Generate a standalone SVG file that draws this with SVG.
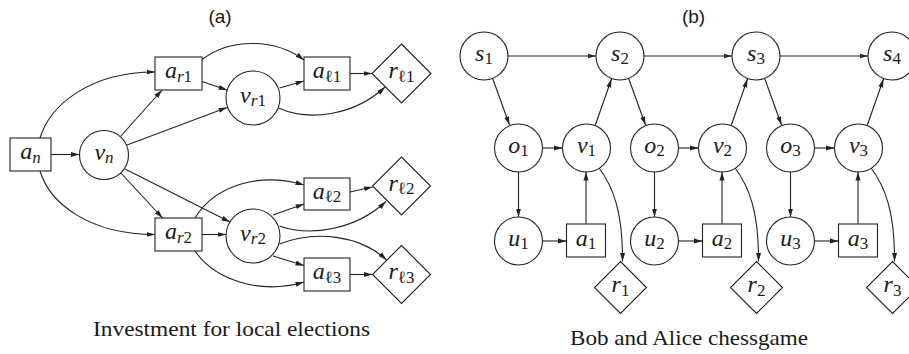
<svg xmlns="http://www.w3.org/2000/svg" width="909" height="354" viewBox="0 0 909 354">
  <style>
    .n { fill: #fff; stroke: #222; stroke-width: 1.1; }
    .e { fill: none; stroke: #222; stroke-width: 1.1; marker-end: url(#ah); }
    .lbl { font-family: "Liberation Serif", "DejaVu Serif", serif; font-style: italic; font-size: 24px; fill: #1a1a1a; text-anchor: middle; }
    .sub { font-size: 17px; }
    .up { font-style: normal; }
    .title { font-family: "Liberation Sans", Arial, sans-serif; font-size: 19px; fill: #1a1a1a; text-anchor: middle; }
    .cap { font-family: "Liberation Serif", "DejaVu Serif", serif; font-size: 21px; fill: #1a1a1a; }
  </style>
  <defs>
    <marker id="ah" markerWidth="9" markerHeight="6" refX="8.5" refY="3" orient="auto" markerUnits="userSpaceOnUse">
      <path d="M0,0.5 L8.5,3 L0,5.5 z" fill="#222"/>
    </marker>
  </defs>
  <rect width="909" height="354" fill="#fff"/>

  <!-- panel titles and captions -->
  <text class="title" x="220" y="23">(a)</text>
  <text class="title" x="693.5" y="23">(b)</text>
  <text class="cap" x="93" y="336" textLength="277" lengthAdjust="spacingAndGlyphs">Investment for local elections</text>
  <text class="cap" x="570" y="345" textLength="238" lengthAdjust="spacingAndGlyphs">Bob and Alice chessgame</text>

  <!-- connectors -->
  <g id="edges">
    <!-- (a) -->
    <path class="e" d="M51,154.5 L79.5,154.5"/>
    <path class="e" d="M40,138 C50,105 90,72 155,72"/>
    <path class="e" d="M40,171 C50,204 90,234.5 155,234.5"/>
    <path class="e" d="M120.5,136.5 L162,90"/>
    <path class="e" d="M127,145 L227,107.5"/>
    <path class="e" d="M120.5,172.5 L162.5,218"/>
    <path class="e" d="M125,169 L230,222"/>
    <path class="e" d="M202,81.5 L227,90"/>
    <path class="e" d="M202,59.5 C230,38 275,38 304,60"/>
    <path class="e" d="M279.5,88 L304,81"/>
    <path class="e" d="M278.5,108 C310,122 355,115 385,87"/>
    <path class="e" d="M350,73.5 L372,73.5"/>
    <path class="e" d="M195,218 C215,185 260,172 304,185"/>
    <path class="e" d="M202,234.5 L226,234.5"/>
    <path class="e" d="M195,251 C215,280 260,295 304,282"/>
    <path class="e" d="M273,215 L304,204"/>
    <path class="e" d="M279.5,226 C310,237 355,230 386,201.5"/>
    <path class="e" d="M279.5,244 C315,230 360,235 386.5,260"/>
    <path class="e" d="M273,256 L304,265.5"/>
    <path class="e" d="M350,192 L372.5,187"/>
    <path class="e" d="M350,274.5 L372.5,274.5"/>
    <!-- (b) -->
    <path class="e" d="M508,56 L596,56"/>
    <path class="e" d="M644,56 L732,56"/>
    <path class="e" d="M780,56 L868,56"/>
    <path class="e" d="M492.5,78 L509.5,125"/>
    <path class="e" d="M628.5,78 L645.5,125"/>
    <path class="e" d="M764.5,78 L781.5,125"/>
    <path class="e" d="M595,126 L611.5,79"/>
    <path class="e" d="M731,126 L747.5,79"/>
    <path class="e" d="M867,126 L883.5,79"/>
    <path class="e" d="M542.5,148 L562.5,148"/>
    <path class="e" d="M678.5,148 L698.5,148"/>
    <path class="e" d="M814.5,148 L834.5,148"/>
    <path class="e" d="M518.5,172 L518.5,217"/>
    <path class="e" d="M654.5,172 L654.5,217"/>
    <path class="e" d="M790.5,172 L790.5,217"/>
    <path class="e" d="M586,224 L586,172"/>
    <path class="e" d="M722,224 L722,172"/>
    <path class="e" d="M858,224 L858,172"/>
    <path class="e" d="M542.5,241 L566.5,241"/>
    <path class="e" d="M678.5,241 L702.5,241"/>
    <path class="e" d="M814.5,241 L838.5,241"/>
    <path class="e" d="M599,168 C612,185 623,210 622.5,261.5"/>
    <path class="e" d="M735,168 C748,185 759,210 758.5,261.5"/>
    <path class="e" d="M871,168 C884,185 895,210 894.5,261.5"/>
  </g>

  <!-- (a) nodes -->
  <g id="a_n"><rect class="n" x="10" y="138" width="41" height="33"/><text class="lbl" x="30.5" y="159">a<tspan class="sub" dy="3.5">n</tspan></text></g>
  <g id="v_n"><circle class="n" cx="104" cy="155" r="24.5"/><text class="lbl" x="104" y="159.5">v<tspan class="sub" dy="3.5">n</tspan></text></g>
  <g id="a_r1"><rect class="n" x="155" y="57" width="47" height="33"/><text class="lbl" x="178.5" y="78">a<tspan class="sub" dy="3.5">r</tspan><tspan class="sub up">1</tspan></text></g>
  <g id="v_r1"><circle class="n" cx="253" cy="98" r="27"/><text class="lbl" x="253" y="102.5">v<tspan class="sub" dy="3.5">r</tspan><tspan class="sub up">1</tspan></text></g>
  <g id="a_l1"><rect class="n" x="304" y="57" width="46" height="33"/><text class="lbl" x="327" y="78">a<tspan class="sub up" dy="3.5">ℓ1</tspan></text></g>
  <g id="r_l1"><polygon class="n" points="401.5,44 431,73.5 401.5,103 372,73.5"/><text class="lbl" x="401.5" y="78">r<tspan class="sub up" dy="3.5">ℓ1</tspan></text></g>
  <g id="a_r2"><rect class="n" x="155" y="218" width="47" height="33"/><text class="lbl" x="178.5" y="239">a<tspan class="sub" dy="3.5">r</tspan><tspan class="sub up">2</tspan></text></g>
  <g id="v_r2"><circle class="n" cx="253" cy="236" r="27"/><text class="lbl" x="253" y="240.5">v<tspan class="sub" dy="3.5">r</tspan><tspan class="sub up">2</tspan></text></g>
  <g id="a_l2"><rect class="n" x="304" y="178" width="46" height="32"/><text class="lbl" x="327" y="198.5">a<tspan class="sub up" dy="3.5">ℓ2</tspan></text></g>
  <g id="r_l2"><polygon class="n" points="401.5,157 430.5,186 401.5,215 372.5,186"/><text class="lbl" x="401.5" y="190.5">r<tspan class="sub up" dy="3.5">ℓ2</tspan></text></g>
  <g id="a_l3"><rect class="n" x="304" y="258" width="46" height="33"/><text class="lbl" x="327" y="279">a<tspan class="sub up" dy="3.5">ℓ3</tspan></text></g>
  <g id="r_l3"><polygon class="n" points="401.5,245.5 430.5,274.5 401.5,303.5 372.5,274.5"/><text class="lbl" x="401.5" y="279">r<tspan class="sub up" dy="3.5">ℓ3</tspan></text></g>

  <!-- (b) nodes -->
  <g id="s1"><circle class="n" cx="484" cy="56" r="24"/><text class="lbl" x="484" y="60.5">s<tspan class="sub up" dy="3.5">1</tspan></text></g>
  <g id="s2"><circle class="n" cx="620" cy="56" r="24"/><text class="lbl" x="620" y="60.5">s<tspan class="sub up" dy="3.5">2</tspan></text></g>
  <g id="s3"><circle class="n" cx="756" cy="56" r="24"/><text class="lbl" x="756" y="60.5">s<tspan class="sub up" dy="3.5">3</tspan></text></g>
  <g id="s4"><circle class="n" cx="892" cy="56" r="24"/><text class="lbl" x="892" y="60.5">s<tspan class="sub up" dy="3.5">4</tspan></text></g>

  <g id="o1"><circle class="n" cx="518.5" cy="148" r="24"/><text class="lbl" x="518.5" y="152.5">o<tspan class="sub up" dy="3.5">1</tspan></text></g>
  <g id="v1"><circle class="n" cx="586.5" cy="148" r="24"/><text class="lbl" x="586.5" y="152.5">v<tspan class="sub up" dy="3.5">1</tspan></text></g>
  <g id="o2"><circle class="n" cx="654.5" cy="148" r="24"/><text class="lbl" x="654.5" y="152.5">o<tspan class="sub up" dy="3.5">2</tspan></text></g>
  <g id="v2"><circle class="n" cx="722.5" cy="148" r="24"/><text class="lbl" x="722.5" y="152.5">v<tspan class="sub up" dy="3.5">2</tspan></text></g>
  <g id="o3"><circle class="n" cx="790.5" cy="148" r="24"/><text class="lbl" x="790.5" y="152.5">o<tspan class="sub up" dy="3.5">3</tspan></text></g>
  <g id="v3"><circle class="n" cx="858.5" cy="148" r="24"/><text class="lbl" x="858.5" y="152.5">v<tspan class="sub up" dy="3.5">3</tspan></text></g>

  <g id="u1"><circle class="n" cx="518.5" cy="241" r="24"/><text class="lbl" x="518.5" y="245.5">u<tspan class="sub up" dy="3.5">1</tspan></text></g>
  <g id="a1"><rect class="n" x="566.5" y="224" width="39" height="33"/><text class="lbl" x="586" y="245.5">a<tspan class="sub up" dy="3.5">1</tspan></text></g>
  <g id="u2"><circle class="n" cx="654.5" cy="241" r="24"/><text class="lbl" x="654.5" y="245.5">u<tspan class="sub up" dy="3.5">2</tspan></text></g>
  <g id="a2"><rect class="n" x="702.5" y="224" width="39" height="33"/><text class="lbl" x="722" y="245.5">a<tspan class="sub up" dy="3.5">2</tspan></text></g>
  <g id="u3"><circle class="n" cx="790.5" cy="241" r="24"/><text class="lbl" x="790.5" y="245.5">u<tspan class="sub up" dy="3.5">3</tspan></text></g>
  <g id="a3"><rect class="n" x="838.5" y="224" width="39" height="33"/><text class="lbl" x="858" y="245.5">a<tspan class="sub up" dy="3.5">3</tspan></text></g>

  <g id="r1"><polygon class="n" points="620.5,261.5 646.5,287.5 620.5,313.5 594.5,287.5"/><text class="lbl" x="620.5" y="292">r<tspan class="sub up" dy="3.5">1</tspan></text></g>
  <g id="r2"><polygon class="n" points="756.5,261.5 782.5,287.5 756.5,313.5 730.5,287.5"/><text class="lbl" x="756.5" y="292">r<tspan class="sub up" dy="3.5">2</tspan></text></g>
  <g id="r3"><polygon class="n" points="892.5,261.5 918.5,287.5 892.5,313.5 866.5,287.5"/><text class="lbl" x="892.5" y="292">r<tspan class="sub up" dy="3.5">3</tspan></text></g>
</svg>
